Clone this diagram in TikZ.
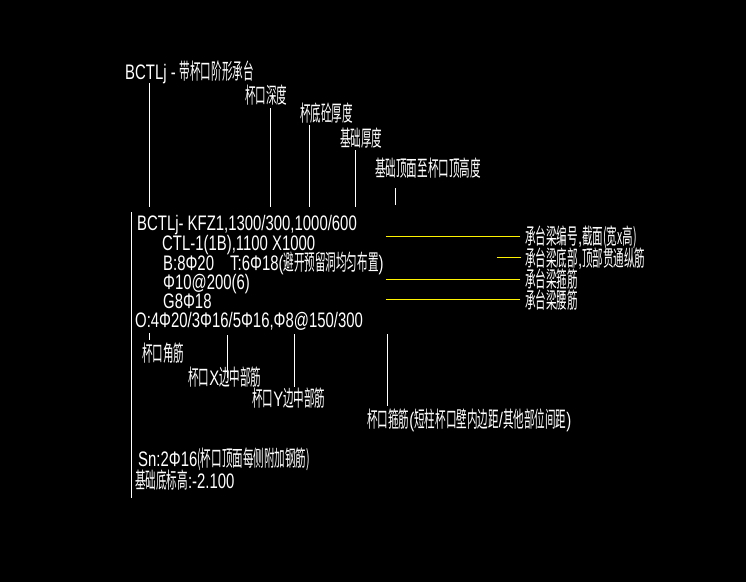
\documentclass[tikz,border=0pt]{standalone}
\usepackage{fontspec}
\setmainfont{Liberation Sans}[FakeStretch=0.71]
\newfontfamily\cjk{Noto Sans CJK SC}[FakeStretch=0.48]
\newcommand{\zh}[1]{{\cjk\fontsize{22}{24}\selectfont #1}}
\begin{document}
\begin{tikzpicture}[x=1pt,y=-1pt,
  txt/.style={text=white, inner sep=0pt, anchor=base west, font=\fontsize{21}{23}\selectfont},
  wire/.style={white, line width=1pt},
  hl/.style={yellow, line width=1pt}]
\fill[black] (0,0) rectangle (746,582);
\useasboundingbox (0,0) rectangle (746,582);

% top header labels
\node[txt] (hdr) at (125,79) {BCTLj - \zh{带杯口阶形承台}};
\node[txt] (depth) at (245,103) {\zh{杯口深度}};
\node[txt] (bot) at (300,121) {\zh{杯底砼厚度}};
\node[txt] (thk) at (340,146) {\zh{基础厚度}};
\node[txt] (top) at (375,176) {\zh{基础顶面至杯口顶高度}};

% main block
\node[txt] (m1) at (137,230) {BCTLj- KFZ1,1300/300,1000/600};
\node[txt] (m2) at (162,250) {CTL-1(1B),1100 X1000};
\node[txt] (m3a) at (163,270) {B:8Φ20};
\node[txt] (m3b) at (230,270) {T:6Φ18(\zh{避开预留洞均匀布置})};
\node[txt] (m4) at (163,289) {Φ10@200(6)};
\node[txt] (m5) at (163,308) {G8Φ18};
\node[txt] (m6) at (135,327) {O:4Φ20/3Φ16/5Φ16,Φ8@150/300};

% right labels
\node[txt] (r1) at (525,244) {\zh{承台梁编号},\zh{截面(宽x高)}};
\node[txt] (r2) at (525,266) {\zh{承台梁底部},\zh{顶部贯通纵筋}};
\node[txt] (r3) at (525,287) {\zh{承台梁箍筋}};
\node[txt] (r4) at (525,308) {\zh{承台梁腰筋}};

% bottom labels
\node[txt] (b1) at (142,361) {\zh{杯口角筋}};
\node[txt] (b2) at (188,385) {\zh{杯口}X\zh{边中部筋}};
\node[txt] (b3) at (252,406) {\zh{杯口}Y\zh{边中部筋}};
\node[txt] (b4) at (367,427) {\zh{杯口箍筋}(\zh{短柱杯口壁内边距}/\zh{其他部位间距})};
\node[txt] (sn) at (138,466) {Sn:2Φ16\zh{(杯口顶面每侧附加钢筋)}};
\node[txt] (el) at (135,488) {\zh{基础底标高}:-2.100};

% coordinates for leader ends
\coordinate (h1) at (149.5,83);  \coordinate (h1e) at (149.5,207);
\coordinate (h2) at (270.5,108); \coordinate (h2e) at (270.5,207);
\coordinate (h3) at (309,125);   \coordinate (h3e) at (309,207);
\coordinate (h4) at (355,150);   \coordinate (h4e) at (355,207);
\coordinate (h5) at (395.5,188); \coordinate (h5e) at (395.5,205);
\coordinate (vm) at (131,212);   \coordinate (vme) at (131,498);
\coordinate (k1) at (149,333);   \coordinate (k1e) at (149,340);
\coordinate (k2) at (227,335);   \coordinate (k2e) at (227,378);
\coordinate (k3) at (294,334);   \coordinate (k3e) at (294,387);
\coordinate (k4) at (387,334);   \coordinate (k4e) at (387,406);
\coordinate (y1) at (386,236);   \coordinate (y1e) at (520,236);
\coordinate (y2) at (497,257);   \coordinate (y2e) at (521,257);
\coordinate (y3) at (386,279);   \coordinate (y3e) at (520,279);
\coordinate (y4) at (386,299);   \coordinate (y4e) at (520,299);

\draw[wire] (h1) -- (h1e);
\draw[wire] (h2) -- (h2e);
\draw[wire] (h3) -- (h3e);
\draw[wire] (h4) -- (h4e);
\draw[wire] (h5) -- (h5e);
\draw[wire] (vm) -- (vme);
\draw[wire] (k1) -- (k1e);
\draw[wire] (k2) -- (k2e);
\draw[wire] (k3) -- (k3e);
\draw[wire] (k4) -- (k4e);
\draw[hl] (y1) -- (y1e);
\draw[hl] (y2) -- (y2e);
\draw[hl] (y3) -- (y3e);
\draw[hl] (y4) -- (y4e);
\end{tikzpicture}
\end{document}
